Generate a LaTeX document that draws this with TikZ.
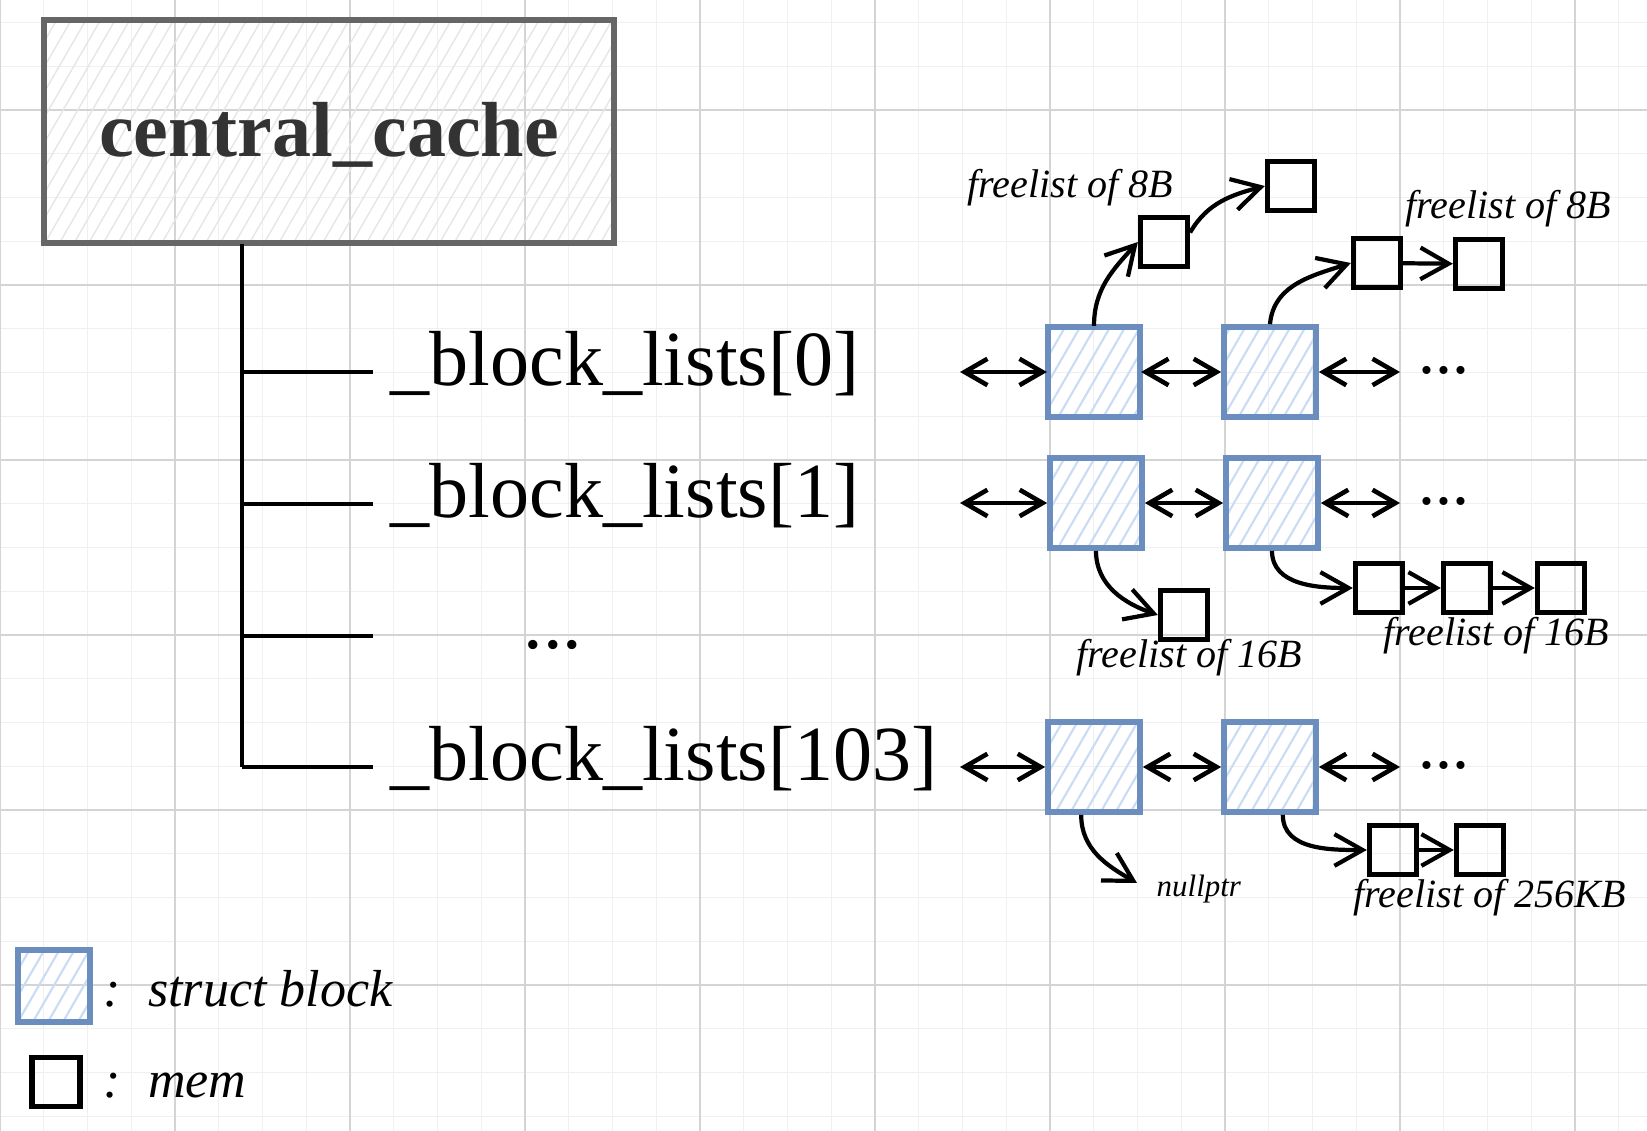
\documentclass[tikz,border=0pt]{standalone}
\usepackage{fontspec}
\setmainfont{Liberation Serif}
\usetikzlibrary{arrows.meta,patterns.meta}

\definecolor{blockline}{HTML}{6C8EBF}
\definecolor{blockhatch}{HTML}{C9DCF6}
\definecolor{cacheline}{HTML}{666666}
\definecolor{cachehatch}{HTML}{E6E6E6}
\definecolor{cachetext}{HTML}{333333}
\definecolor{gridminor}{HTML}{F0F0F0}
\definecolor{gridmajor}{HTML}{D4D4D4}

\begin{document}
\begin{tikzpicture}[x=0.01cm, y=0.01cm,
  cachebox/.style={draw=cacheline, line width=1.7pt, pattern={Lines[angle=60, distance=3.6pt, line width=0.4pt]}, pattern color=cachehatch, text=cachetext, font=\fontsize{22.2}{26}\selectfont\bfseries, minimum width=5.7cm, minimum height=2.23cm, text height=20pt, text depth=5.5pt},
  sblock/.style={draw=blockline, line width=1.6pt, pattern={Lines[angle=60, distance=3.7pt, line width=0.6pt]}, pattern color=blockhatch, minimum width=0.92cm, minimum height=0.9cm, inner sep=0pt},
  mem/.style={draw=black, line width=1.5pt, minimum width=0.47cm, minimum height=0.49cm, inner sep=0pt},
  listname/.style={anchor=base west, inner xsep=0.17cm, inner ysep=0pt, font=\fontsize{22.2}{26}\selectfont},
  more/.style={anchor=base, inner sep=0pt, font=\fontsize{19.3}{22}\selectfont},
  note/.style={anchor=base west, inner sep=0pt, font=\fontsize{11.4}{13}\selectfont\itshape},
  key/.style={anchor=base west, inner sep=0pt, font=\fontsize{14.8}{17}\selectfont\itshape},
  tree/.style={line width=1pt},
  link/.style={-{Straight Barb[length=8pt, width=9pt]}, line width=1.2pt},
  dlink/.style={{Straight Barb[length=6.5pt, width=7.5pt]}-{Straight Barb[length=6.5pt, width=7.5pt]}, line width=1.3pt}]

  % background grid
  \useasboundingbox[fill=white] (0,0) rectangle (1647,-1131);
  \foreach \i in {0,...,37}
    \draw[gridminor, line width=0.35pt] (\i*43.75,0) -- (\i*43.75,-1131);
  \foreach \j in {0,...,25}
    \draw[gridminor, line width=0.35pt] (0,-22.5-\j*43.75) -- (1647,-22.5-\j*43.75);
  \foreach \i in {0,...,9}
    \draw[gridmajor, line width=0.35pt] (\i*175,0) -- (\i*175,-1131);
  \foreach \j in {0,...,5}
    \draw[gridmajor, line width=0.35pt] (0,-110-\j*175) -- (1647,-110-\j*175);

  % central cache and its lists
  \node[cachebox] (cc) at (329,-131.5) {central\_cache};

  \coordinate (j0) at (242,-372);
  \coordinate (j1) at (242,-504);
  \coordinate (j2) at (242,-636);
  \coordinate (j3) at (242,-767);
  \node[listname] (l0) at (373,-386) {\_block\_lists[0]};
  \node[listname] (l1) at (373,-518) {\_block\_lists[1]};
  \node[more, font=\fontsize{22.2}{26}\selectfont] (l2) at (553,-649) {...};
  \node[listname] (l3) at (373,-781) {\_block\_lists[103]};
  \draw[tree] (cc.south -| j0) -- (j3);
  \foreach \r in {0,1,3}
    \draw[tree] (j\r) -- (j\r -| l\r.west);
  \draw[tree] (j2) -- (j2 -| l0.west);

  % struct blocks
  \node[sblock] (b00) at (1094,-372) {};
  \node[sblock] (b01) at (1270,-372) {};
  \node[sblock] (b10) at (1096,-503) {};
  \node[sblock] (b11) at (1272,-503) {};
  \node[sblock] (b30) at (1094,-767) {};
  \node[sblock] (b31) at (1270,-767) {};

  \foreach \r/\y in {0/-372,1/-503,3/-767} {
    \coordinate (s\r) at (960,\y);
    \coordinate (e\r) at (1400,\y);
    \node[more] (d\r) at (1444,\y-2) {...};
    \draw[dlink] (s\r) -- (b\r0);
    \draw[dlink] (b\r0) -- (b\r1);
    \draw[dlink] (b\r1) -- (e\r);
  }

  % mem chunks
  \node[mem] (m0a) at (1164,-242) {};
  \node[mem] (m0b) at (1291,-186) {};
  \node[mem] (m0c) at (1377,-263) {};
  \node[mem] (m0d) at (1479,-264) {};
  \node[mem] (m1a) at (1184,-615) {};
  \node[mem] (m1b) at (1379,-588) {};
  \node[mem] (m1c) at (1467,-588) {};
  \node[mem] (m1d) at (1561,-588) {};
  \node[mem] (m3a) at (1393,-850) {};
  \node[mem] (m3b) at (1480,-850) {};
  \coordinate (np) at (1137,-883);

  \draw[link] (b00.north) to[out=90, in=228] (m0a.west);
  \draw[link] (m0a.20) to[out=60, in=195] (m0b.west);
  \draw[link] (b01.north) to[out=85, in=198] (m0c.west);
  \draw[link] (m0c) -- (m0d);
  \draw[link] (b10.south) to[out=-90, in=161] (m1a.west);
  \draw[link] (b11.south) to[out=-90, in=180] (m1b.west);
  \draw[link] (m1b) -- (m1c);
  \draw[link] (m1c) -- (m1d);
  \draw[link] (b30.-105) to[out=-90, in=150] (np);
  \draw[link] (b31.-75) to[out=-90, in=180] (m3a.west);
  \draw[link] (m3a) -- (m3b);

  \node[note] (f0a) at (967,-198) {freelist of 8B};
  \node[note] (f0b) at (1405,-219) {freelist of 8B};
  \node[note] (f1a) at (1076,-668) {freelist of 16B};
  \node[note] (f1b) at (1383,-646) {freelist of 16B};
  \node[note] (f3) at (1353,-908) {freelist of 256KB};
  \node[note, font=\fontsize{8.8}{10}\selectfont\itshape] (nul) at (1156,-897) {nullptr};

  % legend
  \node[sblock, minimum width=0.72cm, minimum height=0.72cm] (kb) at (54,-986) {};
  \node[mem, minimum width=0.48cm, minimum height=0.49cm] (km) at (56,-1082) {};
  \node[key] (kbt) at (103,-1007) {:\hspace{0.52em}struct block};
  \node[key] (kmt) at (103,-1098) {:\hspace{0.52em}mem};
\end{tikzpicture}
\end{document}
